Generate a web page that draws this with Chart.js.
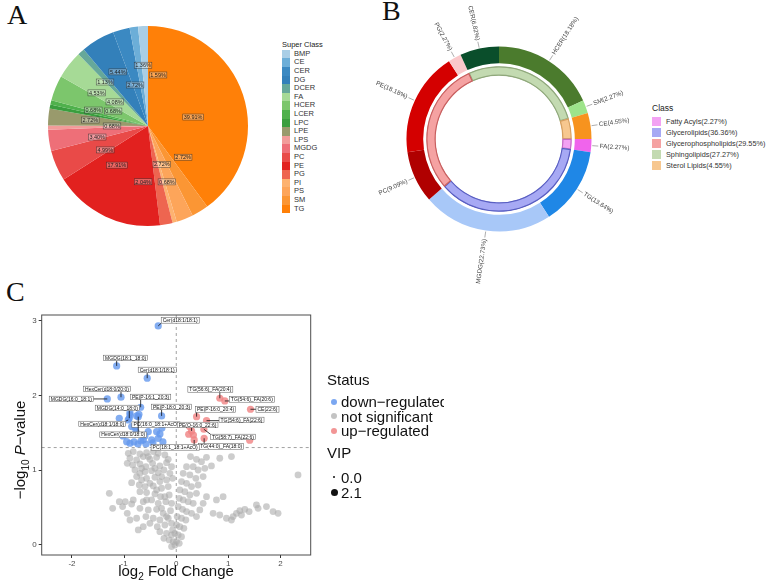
<!DOCTYPE html>
<html>
<head>
<meta charset="utf-8">
<script src="https://cdn.jsdelivr.net/npm/chart.js@4.4.0/dist/chart.umd.min.js"></script>
<style>
  html, body { margin: 0; padding: 0; background: #fff; }
  body { width: 767px; height: 582px; position: relative; overflow: hidden;
         font-family: "Liberation Sans", Arial, sans-serif; color: #222; }
  canvas { position: absolute; }
  .tag { position: absolute; font-family: "Liberation Serif", "Times New Roman", serif;
         font-size: 28px; line-height: 1; color: #111; }
  .abs { position: absolute; white-space: nowrap; }
  .sw { position: absolute; }
</style>
</head>
<body>
<div class="tag" style="left:7px;top:1px">A</div>
<div class="tag" style="left:382px;top:-3px">B</div>
<div class="tag" style="left:6px;top:278px">C</div>

<canvas id="pieA" width="204" height="204" style="left:46px;top:24px"></canvas>
<div id="legendA"></div>

<canvas id="ringB" width="300" height="300" style="left:349px;top:-11px"></canvas>
<div id="legendB"></div>

<canvas id="volC" width="460" height="292" style="left:0;top:290px"></canvas>
<div class="abs" style="left:76px;width:200px;top:562px;text-align:center;font-size:15px;color:#111">log<sub style="font-size:10px">2</sub> Fold Change</div>
<div class="abs" style="left:-59px;top:440px;width:160px;text-align:center;font-size:15px;color:#111;transform:rotate(-90deg)">&minus;log<sub style="font-size:10px">10</sub> <i>P</i>&minus;value</div>
<div id="legendC" style="position:absolute;left:320px;top:360px;width:124px;height:150px;overflow:hidden"></div>

<script>
// ---------- Panel A: super class share ----------
const superClasses = ['BMP','CE','CER','DG','DCER','FA','HCER','LCER','LPC','LPE','LPS','MGDG','PC','PE','PG','PI','PS','SM','TG'];
const superPercent = [1.59,1.36,2.72,5.44,1.13,4.53,4.08,0.68,0.68,2.72,0.68,3.40,4.99,17.91,2.04,0.68,2.72,2.72,39.91];
const superColors = ['#a9cee6','#6caed8','#3b89c2','#3380ba','#66a89a','#a6da96','#7cc66c','#4fb14c','#3a9e3e','#999a6c',
                     '#f29c9a','#ee6f78','#e94a48','#e2211f','#ee6550','#fdb270','#fda55a','#fb9634','#ff8008'];
// label nudges [degrees off the slice middle, fraction of radius]
const pieTagSpot = [[14,.52],[3.5,.61],[-2,.43],[1,.62],[-2.3,.615],[-4.9,.61],[13.7,.41],[9.5,.38],[5,.57],[0.8,.58],
                    [1,.36],[-3.9,.52],[-5.8,.49],[13.2,.50],[15.6,.56],[-3.2,.59],[1.9,.41],[-17,.47],[6.9,.46]];

// ---------- Panel B: lipid classes ----------
const lipidNames = ['HCER','SM','CE','FA','TG','MGDG','PC','PE','PG','CER'];
const lipidPercent = [18.18,2.27,4.55,2.27,13.64,22.73,9.09,18.18,2.27,6.82];
const lipidColors = ['#4b7b2d','#9de48a','#f7931e','#f064ec','#1f87e6','#a8c8f8','#b00000','#d40000','#fac8ca','#0a4e2b'];
const classNames = ['Fatty Acyls','Glycerolipids','Glycerophospholipids','Sphingolipids','Sterol Lipids'];
const classPercent = [2.27,36.36,29.55,27.27,4.55];
const classColors = ['#f3a2f3','#a7a9f4','#f5a2a2','#c3dab1','#f7c78f'];
const classEdge = ['#c46cc4','#5a5fc2','#c86060','#90a87c','#d6a062'];
const classRingOrder = [3,4,0,1,2];   // sphingo, sterol, fatty acyls, glycero, glycerophospho

// ---------- Panel C: volcano ----------
const xTicks = [-2,-1,0,1,2];
const yTicks = [0,1,2,3];
const fcLine = 0;
const pLine = 1.301;

const downNames = ['Cer(d18:1/18:1)','MGDG(18:1_18:0)','Cer(d18:1/18:1)','HexCer(d18:0/20:0)','MGDG(16:0_18:1)','PE(P-16:1_20:3)',
                   'MGDG(14:0_18:0)','PE(P-18:0_20:3)','HexCer(d18:1/18:0)','PC(16:0_18:1+AcO)','HexCer(d18:0/18:0)'];
const downNamedFC = [-0.345,-1.142,-0.556,-1.059,-1.322,-0.682,-0.900,-0.280,-0.920,-0.791,-0.728];
const downNamedP  = [2.928,2.393,2.229,1.975,1.952,1.841,1.694,1.725,1.671,1.574,1.715];
const downOther = [[-1.092,1.694],[-0.887,1.738],[-0.715,1.747],[-0.854,1.582],[-0.772,1.515],[-0.536,1.515],[-0.375,1.515],
                   [-0.345,1.426],[-0.471,1.404],[-0.632,1.404],[-0.887,1.360],[-0.950,1.381],[-0.810,1.377],[-0.734,1.350],
                   [-0.676,1.390],[-0.580,1.350],[-0.446,1.364],[-0.255,1.377],[-0.312,1.484],[-1.020,1.457],[-0.600,1.457],
                   [-0.274,1.564],[-0.759,1.725],[-0.887,1.769]];

const upNames = ['TG(56:6)_FA(20:4)','TG(54:6)_FA(20:6)','CE(22:6)','PE(P-16:0_20:4)','TG(54:6)_FA(22:6)','PE(O-16:0_22:6)',
                 'TG(58:7)_FA(22:6)','TG(44:0)_FA(18:0)','PC(18:1_18:1+AcO)'];
const upNamedFC = [0.837,0.933,1.425,0.391,0.582,0.295,0.531,0.536,0.345];
const upNamedP  = [1.961,1.925,1.814,1.715,1.662,1.524,1.547,1.426,1.404];
const upOther = [[1.41,1.40],[0.24,1.48],[0.33,1.47],[0.26,1.58]];

const nsPoints = [
  [-0.919,1.225],[-0.824,1.248],[-0.696,1.216],[-0.568,1.234],[-0.440,1.248],[-0.345,1.225],
  [-0.887,1.159],[-0.759,1.136],[-0.632,1.181],[-0.504,1.145],[-0.376,1.172],[-0.217,1.203],[-0.153,1.145],
  [-0.939,1.092],[-0.836,1.070],[-0.696,1.083],[-0.581,1.047],[-0.453,1.092],[-0.313,1.056],[-0.185,1.100],[-0.089,1.047],
  [-0.791,1.002],[-0.696,0.958],[-0.600,0.980],[-0.472,0.993],[-0.345,0.967],[-0.236,1.002],[-0.121,0.958],
  [-0.759,0.914],[-0.664,0.869],[-0.568,0.891],[-0.408,0.905],[-0.313,0.847],[-0.185,0.869],[-0.070,0.891],
  [-0.855,0.833],[-0.709,0.802],[-0.600,0.780],[-0.440,0.789],[-0.281,0.758],[-0.153,0.780],
  [-0.696,0.713],[-0.568,0.700],[-0.408,0.682],[-0.300,0.646],[-0.134,0.668],
  [-1.283,0.691],[-1.219,0.490],[-1.091,0.579],[-0.977,0.579],[-1.028,0.513],
  [-0.824,0.602],[-0.632,0.579],[-0.472,0.602],[-0.345,0.557],[-0.198,0.579],
  [-0.696,0.490],[-0.536,0.468],[-0.376,0.477],[-0.249,0.423],[-0.109,0.459],
  [-0.581,0.379],[-0.440,0.357],[-0.313,0.334],[-0.153,0.357],
  [-0.504,0.290],[-0.363,0.245],[-0.217,0.267],[-0.089,0.290],
  [-0.313,0.178],[-0.185,0.156],[-0.089,0.134],[-0.236,0.089],
  [-0.134,0.067],[-0.057,0.045],[-0.025,0.000],[-0.089,-0.022],
  [-0.939,0.423],[-0.855,0.548],[-0.887,0.334],[-0.728,0.201],[-0.632,0.245],[-0.759,0.357],
  [-0.536,1.181],[-0.664,1.025],[-0.408,1.025],[-0.281,0.914],[-0.504,0.824],[-0.376,0.736],[-0.217,0.646],
  [-0.568,0.602],[-0.089,0.557],[-0.281,0.490],[-0.185,0.379],[-0.070,0.201],
  [0.274,1.181],[0.389,1.145],[0.485,1.114],[0.581,1.172],[0.836,1.159],[1.060,1.181],
  [0.198,1.047],[0.326,1.047],[0.421,1.002],[0.549,1.025],[0.676,1.056],
  [0.134,0.958],[0.262,0.936],[0.377,0.891],[0.517,0.914],
  [0.102,0.847],[0.198,0.824],[0.294,0.780],[0.421,0.802],
  [0.070,0.736],[0.166,0.713],[0.262,0.668],[0.389,0.691],
  [0.058,0.624],[0.134,0.602],[0.230,0.579],[0.326,0.557],
  [0.038,0.513],[0.121,0.477],[0.198,0.446],[0.294,0.423],
  [0.019,0.379],[0.102,0.357],[0.185,0.334],
  [0.006,0.267],[0.070,0.245],[0.147,0.223],
  [-0.025,0.156],[0.038,0.134],[0.102,0.111],
  [0.006,0.045],[0.058,0.022],
  [0.581,0.646],[0.517,0.557],[0.453,0.468],[0.389,0.379],[0.772,0.602],[0.900,0.646],
  [0.708,0.423],[0.836,0.401],[0.964,0.357],[1.092,0.379],[1.156,0.423],[1.220,0.459],[1.316,0.477],[1.399,0.446],
  [1.539,0.535],[1.571,0.490],[1.731,0.513],[1.858,0.446],[1.954,0.423],[1.060,0.334],[1.252,0.401],
  [2.337,0.936]
];

// label box centre relative to its point, in px (layout only)
const downTagShift = [[22,-5.5],[9,-8],[10,-8.3],[-14,-8.3],[-36,0],[10,-10.3],[-12,-10.3],[10,-9],[-26,4],[21,-2.6],[-15,18]];
const upTagShift = [[-9.5,-8.8],[27,-1.5],[17,0.2],[19,-7.2],[35,-0.7],[6,-6],[29,7.7],[17,8.2],[-19,7.5]];

Chart.defaults.font.family = '"Liberation Sans", Arial, sans-serif';

// ---------- build legends ----------
const legA = document.getElementById('legendA');
legA.innerHTML = '<div class="abs" style="left:282px;top:40px;font-size:7.5px;color:#222">Super Class</div>';
superClasses.forEach((name, i) => {
  const top = 49.7 + i * 8.61;
  legA.innerHTML += `<div class="sw" style="left:282px;top:${top}px;width:8px;height:8.7px;background:${superColors[i]}"></div>` +
    `<div class="abs" style="left:294px;top:${top}px;font-size:7.5px;line-height:8.6px;color:#333">${name}</div>`;
});

const legB = document.getElementById('legendB');
legB.innerHTML = '<div class="abs" style="left:652px;top:103px;font-size:8.5px;color:#222">Class</div>';
classNames.forEach((name, i) => {
  const mid = 121.8 + i * 11;
  legB.innerHTML += `<div class="sw" style="left:652px;top:${mid - 4.5}px;width:9px;height:9px;background:${classColors[i]}"></div>` +
    `<div class="abs" style="left:666px;top:${mid - 5}px;font-size:7.3px;line-height:10px;color:#333">${name}(${classPercent[i].toFixed(2)}%)</div>`;
});

const legC = document.getElementById('legendC');
const statusRows = [['down\u2212regulated','rgba(100,152,238,0.85)'],['not significant','rgba(180,180,180,0.8)'],['up\u2212regulated','rgba(240,130,130,0.85)']];
let htmlC = '<div class="abs" style="left:7px;top:11px;font-size:15px;line-height:17px;color:#111">Status</div>';
statusRows.forEach(([t, c], i) => {
  const mid = 41.7 + i * 14.5;
  htmlC += `<div class="sw" style="left:11px;top:${mid - 3}px;width:6px;height:6px;border-radius:50%;background:${c}"></div>` +
    `<div class="abs" style="left:21px;top:${mid - 8.5}px;font-size:15px;line-height:17px;color:#111">${t}</div>`;
});
htmlC += '<div class="abs" style="left:7px;top:84px;font-size:15px;line-height:17px;color:#111">VIP</div>';
[['0.0',1],['2.1',3.5]].forEach(([t, r], i) => {
  const mid = 117 + i * 15;
  htmlC += `<div class="sw" style="left:${14 - r}px;top:${mid - r}px;width:${2 * r}px;height:${2 * r}px;border-radius:50%;background:#111"></div>` +
    `<div class="abs" style="left:21px;top:${mid - 8.5}px;font-size:15px;line-height:17px;color:#111">${t}</div>`;
});
legC.innerHTML = htmlC;

// ---------- Panel A chart ----------
const pieOrder = superClasses.map((_, i) => superClasses.length - 1 - i);  // TG first, clockwise

const pieTags = {
  id: 'pieTags',
  afterDatasetsDraw(chart) {
    const ctx = chart.ctx;
    ctx.save();
    ctx.font = '5.5px "Liberation Sans", Arial, sans-serif';
    ctx.textAlign = 'center';
    ctx.textBaseline = 'middle';
    chart.getDatasetMeta(0).data.forEach((arc, k) => {
      const i = pieOrder[k];
      const p = arc.getProps(['x','y','startAngle','endAngle','outerRadius'], true);
      const a = (p.startAngle + p.endAngle) / 2 + pieTagSpot[i][0] * Math.PI / 180;
      const r = p.outerRadius * pieTagSpot[i][1];
      const cx = p.x + Math.cos(a) * r, cy = p.y + Math.sin(a) * r;
      const txt = superPercent[i].toFixed(2) + '%';
      const w = ctx.measureText(txt).width + 2, h = 6;
      ctx.fillStyle = 'rgba(255,255,255,0.3)';
      ctx.fillRect(cx - w / 2, cy - h / 2, w, h);
      ctx.strokeStyle = 'rgba(40,40,40,0.85)';
      ctx.lineWidth = 0.5;
      ctx.strokeRect(cx - w / 2, cy - h / 2, w, h);
      ctx.fillStyle = '#1a1a1a';
      ctx.fillText(txt, cx, cy + 0.3);
    });
    ctx.restore();
  }
};

new Chart(document.getElementById('pieA'), {
  type: 'pie',
  data: {
    labels: pieOrder.map(i => superClasses[i]),
    datasets: [{
      data: pieOrder.map(i => superPercent[i]),
      backgroundColor: pieOrder.map(i => superColors[i]),
      borderWidth: 0, hoverOffset: 0, offset: 0
    }]
  },
  options: {
    responsive: false, animation: false, events: [],
    layout: { padding: 2 },
    plugins: { legend: { display: false }, tooltip: { enabled: false } }
  },
  plugins: [pieTags]
});

// ---------- Panel B chart ----------
const ringTags = {
  id: 'ringTags',
  afterDatasetsDraw(chart) {
    const ctx = chart.ctx;
    ctx.save();
    ctx.font = '6.3px "Liberation Sans", Arial, sans-serif';
    ctx.textBaseline = 'middle';
    chart.getDatasetMeta(0).data.forEach((arc, i) => {
      const p = arc.getProps(['x','y','startAngle','endAngle','outerRadius'], true);
      const mid = (p.startAngle + p.endAngle) / 2;
      const c = Math.cos(mid), s = Math.sin(mid);
      ctx.strokeStyle = '#777';
      ctx.lineWidth = 0.6;
      ctx.beginPath();
      ctx.moveTo(p.x + c * (p.outerRadius + 1), p.y + s * (p.outerRadius + 1));
      ctx.lineTo(p.x + c * (p.outerRadius + 7), p.y + s * (p.outerRadius + 7));
      ctx.stroke();
      const r = p.outerRadius + 8.5;
      ctx.save();
      ctx.translate(p.x + c * r, p.y + s * r);
      if (c >= 0) { ctx.rotate(mid); ctx.textAlign = 'left'; }
      else { ctx.rotate(mid + Math.PI); ctx.textAlign = 'right'; }
      ctx.fillStyle = '#444';
      ctx.fillText(`${lipidNames[i]}(${lipidPercent[i].toFixed(2)}%)`, 0, 0);
      ctx.restore();
    });
    ctx.restore();
  }
};

const cerShare = lipidPercent[lipidNames.indexOf('CER')];
new Chart(document.getElementById('ringB'), {
  type: 'doughnut',
  data: {
    datasets: [
      { data: lipidPercent, backgroundColor: lipidColors, borderWidth: 0, weight: 16.7, hoverOffset: 0 },
      { data: [1], backgroundColor: 'rgba(0,0,0,0)', borderWidth: 0, weight: 3, hoverOffset: 0 },
      { data: classRingOrder.map(i => classPercent[i]),
        backgroundColor: classRingOrder.map(i => classColors[i]),
        borderColor: classRingOrder.map(i => classEdge[i]),
        borderWidth: 0.9, borderAlign: 'inner', weight: 9.5, hoverOffset: 0,
        rotation: -cerShare * 3.6 }
    ]
  },
  options: {
    responsive: false, animation: false, events: [],
    cutout: '68.4%',
    layout: { padding: 57.5 },
    plugins: { legend: { display: false }, tooltip: { enabled: false } }
  },
  plugins: [ringTags]
});

// ---------- Panel C chart ----------
const toXY = ([x, y]) => ({ x, y });
const downAll = downNamedFC.map((x, i) => ({ x, y: downNamedP[i] })).concat(downOther.map(toXY));
const upAll = upNamedFC.map((x, i) => ({ x, y: upNamedP[i] })).concat(upOther.map(toXY));

const frameAndGuides = {
  id: 'frameAndGuides',
  beforeDatasetsDraw(chart) {
    const { ctx, chartArea: a, scales: { x, y } } = chart;
    ctx.save();
    ctx.strokeStyle = '#8a8a8a';
    ctx.lineWidth = 0.8;
    ctx.setLineDash([3, 3]);
    const vx = x.getPixelForValue(fcLine), hy = y.getPixelForValue(pLine);
    ctx.beginPath(); ctx.moveTo(vx, a.top); ctx.lineTo(vx, a.bottom); ctx.stroke();
    ctx.beginPath(); ctx.moveTo(a.left, hy); ctx.lineTo(a.right, hy); ctx.stroke();
    ctx.restore();
  },
  afterDatasetsDraw(chart) {
    const { ctx, chartArea: a, scales: { x, y } } = chart;
    ctx.save();
    ctx.strokeStyle = '#4d4d4d';
    ctx.lineWidth = 1;
    ctx.strokeRect(a.left, a.top, a.right - a.left, a.bottom - a.top);
    ctx.font = '5px "Liberation Sans", Arial, sans-serif';
    ctx.textAlign = 'center';
    ctx.textBaseline = 'middle';
    const drawTag = (name, fc, p, [dx, dy]) => {
      const px = x.getPixelForValue(fc), py = y.getPixelForValue(p);
      const cx = px + dx, cy = py + dy;
      const w = ctx.measureText(name).width + 3, h = 5.5;
      const ex = Math.max(cx - w / 2, Math.min(px, cx + w / 2));
      const ey = Math.max(cy - h / 2, Math.min(py, cy + h / 2));
      ctx.strokeStyle = '#111';
      ctx.lineWidth = 0.8;
      ctx.beginPath(); ctx.moveTo(px, py); ctx.lineTo(ex, ey); ctx.stroke();
      ctx.fillStyle = '#fff';
      ctx.fillRect(cx - w / 2, cy - h / 2, w, h);
      ctx.strokeStyle = '#555';
      ctx.lineWidth = 0.5;
      ctx.strokeRect(cx - w / 2, cy - h / 2, w, h);
      ctx.fillStyle = '#111';
      ctx.fillText(name, cx, cy + 0.3);
    };
    downNames.forEach((n, i) => drawTag(n, downNamedFC[i], downNamedP[i], downTagShift[i]));
    upNames.forEach((n, i) => drawTag(n, upNamedFC[i], upNamedP[i], upTagShift[i]));
    ctx.restore();
  }
};

new Chart(document.getElementById('volC'), {
  type: 'scatter',
  data: {
    datasets: [
      { label: 'not significant', data: nsPoints.map(toXY), backgroundColor: 'rgba(172,172,172,0.6)', pointRadius: 3.4, pointBorderWidth: 0 },
      { label: 'down-regulated', data: downAll, backgroundColor: 'rgba(100,152,238,0.8)', pointRadius: 3.6, pointBorderWidth: 0 },
      { label: 'up-regulated', data: upAll, backgroundColor: 'rgba(240,130,130,0.8)', pointRadius: 3.6, pointBorderWidth: 0 }
    ]
  },
  options: {
    responsive: false, animation: false, events: [],
    layout: { padding: { top: 25, right: 149.3, left: 0, bottom: 0 } },
    plugins: { legend: { display: false }, tooltip: { enabled: false } },
    scales: {
      x: {
        type: 'linear', min: -2.58, max: 2.58,
        afterBuildTicks: s => { s.ticks = xTicks.map(v => ({ value: v })); },
        afterFit: s => { s.height = 27; },
        ticks: { font: { size: 8 }, color: '#4d4d4d', padding: 1 },
        grid: { drawOnChartArea: false, drawTicks: true, tickLength: 3, color: '#333' },
        border: { display: false }
      },
      y: {
        type: 'linear', min: -0.134, max: 3.074,
        afterBuildTicks: s => { s.ticks = yTicks.map(v => ({ value: v })); },
        afterFit: s => { s.width = 41.7; },
        ticks: { font: { size: 8 }, color: '#4d4d4d', padding: 2 },
        grid: { drawOnChartArea: false, drawTicks: true, tickLength: 3, color: '#333' },
        border: { display: false }
      }
    }
  },
  plugins: [frameAndGuides]
});
</script>
</body>
</html>
